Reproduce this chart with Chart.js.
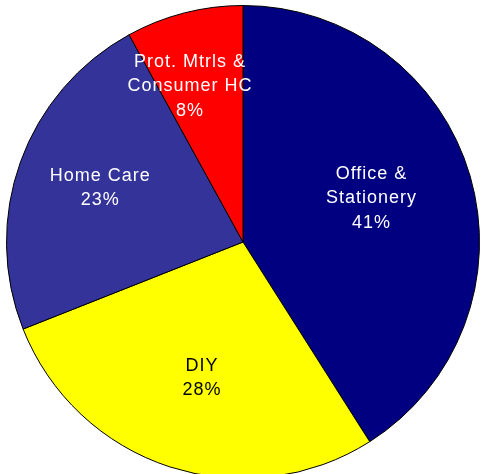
<!DOCTYPE html>
<html>
<head>
<meta charset="utf-8">
<script src="https://cdn.jsdelivr.net/npm/chart.js@4"></script>
<style>
  html, body { margin: 0; padding: 0; background: #fff; overflow: hidden; }
  #wrap { position: absolute; left: 0; top: 0; width: 483px; height: 484px; }
</style>
</head>
<body>
<div id="wrap"><canvas id="myChart"></canvas></div>
<script>
// chart data
var categories = ['Office & Stationery', 'DIY', 'Home Care', 'Prot. Mtrls & Consumer HC'];
var labelLines = [['Office &', 'Stationery'], ['DIY'], ['Home Care'], ['Prot. Mtrls &', 'Consumer HC']];
var shares = [41, 28, 23, 8];

// look
var sliceColors = ['#000080', '#FFFF00', '#333399', '#FF0000'];
var textColors = ['#ffffff', '#000000', '#ffffff', '#ffffff'];
// [fraction of radius, angle nudge in degrees]
var labelPlace = [[0.574, -2.6], [0.60, -1.2], [0.645, 0.9], [0.695, -4.4]];

var sliceLabels = {
  id: 'sliceLabels',
  afterDatasetsDraw: function(chart) {
    var ctx = chart.ctx;
    var arcs = chart.getDatasetMeta(0).data;
    ctx.save();
    ctx.font = '18px "Liberation Sans", Arial, sans-serif';
    ctx.letterSpacing = '1px';
    ctx.textAlign = 'center';
    ctx.textBaseline = 'middle';
    arcs.forEach(function(arc, i) {
      var p = arc.getProps(['x', 'y', 'startAngle', 'endAngle', 'outerRadius']);
      var a = (p.startAngle + p.endAngle) / 2 + labelPlace[i][1] * Math.PI / 180;
      var r = p.outerRadius * labelPlace[i][0];
      var cx = p.x + Math.cos(a) * r;
      var cy = p.y + Math.sin(a) * r;
      var lines = labelLines[i].concat([shares[i] + '%']);
      var lh = 24.5;
      var y0 = cy - (lines.length - 1) * lh / 2;
      ctx.fillStyle = textColors[i];
      lines.forEach(function(t, k) {
        ctx.fillText(t, cx, y0 + k * lh);
      });
    });
    ctx.restore();
  }
};

var ctx = document.getElementById('myChart');
var myChart = new Chart(ctx, {
  type: 'pie',
  data: {
    labels: categories,
    datasets: [{
      data: shares,
      backgroundColor: sliceColors,
      borderColor: '#000000',
      borderWidth: 1
    }]
  },
  options: {
    responsive: true,
    maintainAspectRatio: false,
    animation: false,
    layout: { padding: { left: 6, right: 3, top: 5, bottom: 5 } },
    plugins: {
      legend: { display: false },
      tooltip: { enabled: false }
    }
  },
  plugins: [sliceLabels]
});
</script>
</body>
</html>
